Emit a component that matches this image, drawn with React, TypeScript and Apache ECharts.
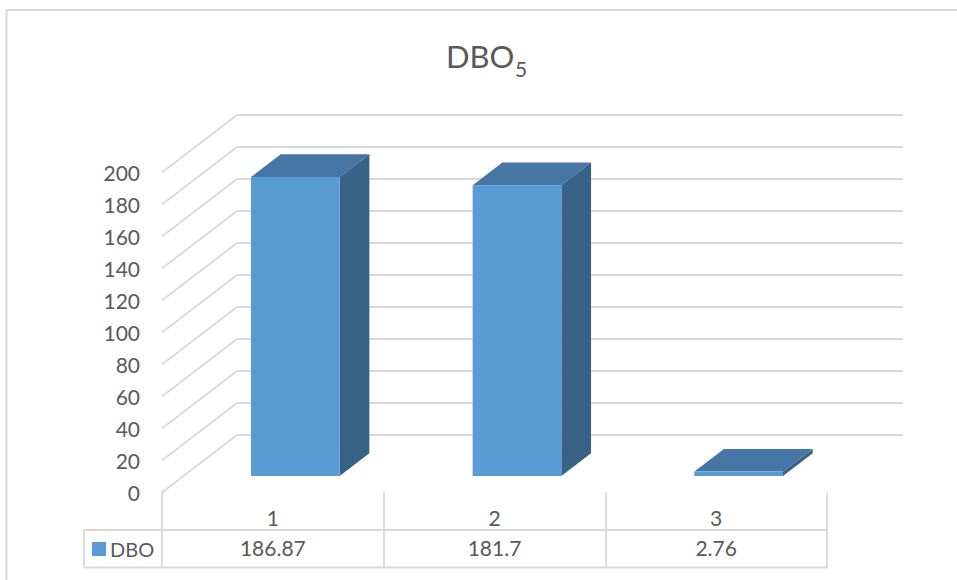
import React, { useEffect, useRef } from "react";
import * as echarts from "echarts";

const categories = ["1", "2", "3"];
const dboValues = [186.87, 181.7, 2.76];
const tableLabels = ["186.87", "181.7", "2.76"];
const gridValues = [0, 20, 40, 60, 80, 100, 120, 140, 160, 180, 200];

const FONT = "Lato";
const TEXT = "#595959";
const LINE = "#d9d9d9";

export default function App() {
  const ref = useRef<HTMLDivElement>(null);
  useEffect(() => {
    const chart = echarts.init(ref.current!, undefined, { renderer: "svg" });
    const wallDx = 75;
    const wallDy = 57.5;
    const barShiftX = 22.5;
    const barShiftY = 16.5;
    const barDx = 29.7;
    const barDy = 22.7;
    chart.setOption({
      animation: false,
      backgroundColor: "#fff",
      textStyle: { fontFamily: FONT },
      title: [
        { text: "DBO", left: 441, top: 35, textStyle: { fontFamily: FONT, fontSize: 31, fontWeight: "normal", color: TEXT } },
        { text: "5", left: 510, top: 53, textStyle: { fontFamily: FONT, fontSize: 21, fontWeight: "normal", color: TEXT } },
      ],
      grid: { left: 162, top: 172.5, width: 665, height: 320, containLabel: false },
      legend: {
        data: ["DBO"],
        left: 88,
        top: 537,
        icon: "rect",
        itemWidth: 14,
        itemHeight: 14,
        itemGap: 0,
        selectedMode: false,
        padding: [2, 0, 2, 4],
        textStyle: { fontFamily: FONT, fontSize: 20, color: TEXT, padding: [0, 0, 0, -1] },
      },
      xAxis: [
        {
          type: "category",
          data: categories,
          axisLine: { show: false },
          axisTick: { show: true, length: 75, lineStyle: { color: LINE, width: 1.8 } },
          axisLabel: { color: TEXT, fontFamily: FONT, fontSize: 21, margin: 14 },
        },
        {
          type: "category",
          position: "bottom",
          data: tableLabels,
          axisLine: { show: false },
          axisTick: { show: false },
          axisLabel: { color: TEXT, fontFamily: FONT, fontSize: 21, margin: 44 },
        },
      ],
      yAxis: {
        type: "value",
        min: 0,
        max: 200,
        interval: 20,
        axisLine: { show: false },
        axisTick: { show: false },
        splitLine: { show: false },
        axisLabel: { color: TEXT, fontFamily: FONT, fontSize: 21, margin: 22 },
      },
      series: [
        {
          type: "custom",
          name: "walls",
          silent: true,
          z: 1,
          encode: { y: 0 },
          data: gridValues.map((v) => [v]),
          renderItem: (params: any, api: any) => {
            const y = api.coord([0, api.value(0)])[1];
            const cs = params.coordSys;
            return {
              type: "polyline",
              shape: {
                points: [
                  [cs.x, y],
                  [cs.x + wallDx, y - wallDy],
                  [cs.x + cs.width + wallDx + 1, y - wallDy],
                ],
              },
              style: { stroke: LINE, lineWidth: 1.8, fill: "none" },
            };
          },
        },
        {
          type: "custom",
          name: "DBO",
          z: 3,
          xAxisIndex: 0,
          itemStyle: { color: "#5b9bd5" },
          encode: { x: 0, y: 1 },
          data: dboValues.map((v, i) => [i, v]),
          renderItem: (_params: any, api: any) => {
            const top = api.coord([api.value(0), api.value(1)]);
            const base = api.coord([api.value(0), 0]);
            const w = api.size([1, 0])[0] * 0.4;
            const x0 = top[0] + barShiftX - w / 2;
            const x1 = x0 + w;
            const yT = top[1] - barShiftY;
            const yB = base[1] - barShiftY;
            return {
              type: "group",
              children: [
                {
                  type: "polygon",
                  shape: { points: [[x1, yT], [x1 + barDx, yT - barDy], [x1 + barDx, yB - barDy], [x1, yB]] },
                  style: { fill: "#376387" },
                },
                {
                  type: "polygon",
                  shape: { points: [[x0, yT], [x0 + barDx, yT - barDy], [x1 + barDx, yT - barDy], [x1, yT]] },
                  style: { fill: "#4676a3" },
                },
                {
                  type: "rect",
                  shape: { x: x0, y: yT, width: w, height: yB - yT },
                  style: { fill: "#5b9bd5" },
                },
              ],
            };
          },
        },
      ],
      graphic: [
        { type: "line", shape: { x1: 6.5, y1: 10, x2: 957, y2: 10 }, style: { stroke: LINE, lineWidth: 2 } },
        { type: "line", shape: { x1: 6.5, y1: 9, x2: 6.5, y2: 580 }, style: { stroke: LINE, lineWidth: 2 } },
        { type: "line", shape: { x1: 84, y1: 530, x2: 827, y2: 530 }, style: { stroke: LINE, lineWidth: 1.8 } },
        { type: "line", shape: { x1: 84, y1: 567.5, x2: 827, y2: 567.5 }, style: { stroke: LINE, lineWidth: 1.8 } },
        { type: "line", shape: { x1: 84, y1: 530, x2: 84, y2: 567.5 }, style: { stroke: LINE, lineWidth: 1.8 } },
      ],
    });
    return () => chart.dispose();
  }, []);
  return <div ref={ref} style={{ position: "absolute", left: 0, top: 0, width: 957, height: 580 }} />;
}
